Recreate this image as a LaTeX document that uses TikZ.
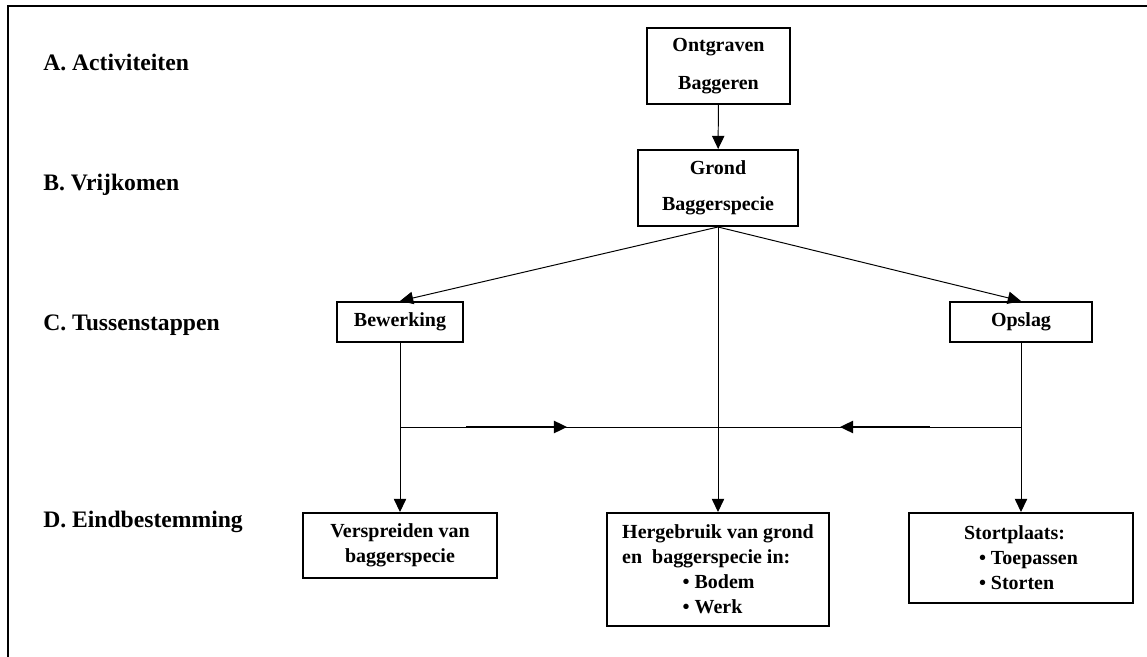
\documentclass[tikz,border=0pt]{standalone}
\usepackage{fontspec}
\setmainfont{Liberation Serif}
\usetikzlibrary{arrows.meta}

\begin{document}
\begin{tikzpicture}[x=0.025cm, y=-0.025cm,
    box/.style={draw, line width=1.4pt, inner sep=0pt, font=\fontsize{14.2}{17.7}\selectfont\bfseries},
    lvl/.style={anchor=west, inner sep=0pt, font=\fontsize{16.8}{20}\selectfont\bfseries},
    tip/.style={-{Triangle[length=3.3mm, width=3.1mm]}, line width=0.7pt}]
         \useasboundingbox (0, 0) rectangle (1147, 657);
         \draw [line width=1.4pt] (8, 657) -- (8, 6) -- (1147, 6);
         \node [lvl] (A) at (43, 62) {A. Activiteiten};
         \node [lvl] (B) at (43, 185) {B. Vrijkomen};
         \node [lvl] (C) at (43, 325) {C. Tussenstappen};
         \node [lvl] (D) at (43, 522) {D. Eindbestemming};
         \node [box, minimum width=3.575cm, minimum height=1.9cm, align=center] (TT) at (718.5, 66) {Ontgraven\\[9pt]Baggeren};
         \node [box, minimum width=4cm, minimum height=1.9cm, align=center] (TM) at (718, 188) {Grond\\[8pt]Baggerspecie};
         \node [box, minimum width=3.15cm, minimum height=1cm] (CL) at (400, 322) {Bewerking};
         \node [box, minimum width=3.55cm, minimum height=1cm] (CR) at (1021, 322) {Opslag};
         \node [box, minimum width=4.825cm, minimum height=1.625cm, align=center] (BL) at (400, 545.5) {Verspreiden van\\baggerspecie};
         \node [box, minimum width=5.55cm, minimum height=2.825cm, align=left] (BM) at (718, 569.5) {Hergebruik van grond\\en\ \ baggerspecie in:\\\hspace*{43pt}\textbullet\ Bodem\\\hspace*{43pt}\textbullet\ Werk};
         \node [box, minimum width=5.575cm, minimum height=2.25cm, align=left] (BR) at (1021, 558) {Stortplaats:\\\hspace*{10.6pt}\textbullet\ Toepassen\\\hspace*{10.6pt}\textbullet\ Storten};
         \coordinate (JL) at (400, 427);
         \coordinate (JR) at (1021, 427);
         \coordinate (PL) at (466, 427);
         \coordinate (QL) at (567, 427);
         \coordinate (PR) at (930, 427);
         \coordinate (QR) at (840, 427);
         \draw [tip] (TT) -- (TM);
         \draw [tip] (TM.south) -- (CL.north);
         \draw [tip] (TM.south) -- (CR.north);
         \draw [tip] (TM.south) -- (BM.north);
         \draw [tip] (CL.south) -- (BL.north);
         \draw [tip] (CR.south) -- (BR.north);
         \draw [line width=0.7pt] (JL) -- (JR);
         \draw [tip, line width=1.2pt] (PL) -- (QL);
         \draw [tip, line width=1.2pt] (PR) -- (QR);
 \end{tikzpicture}
\end{document}
